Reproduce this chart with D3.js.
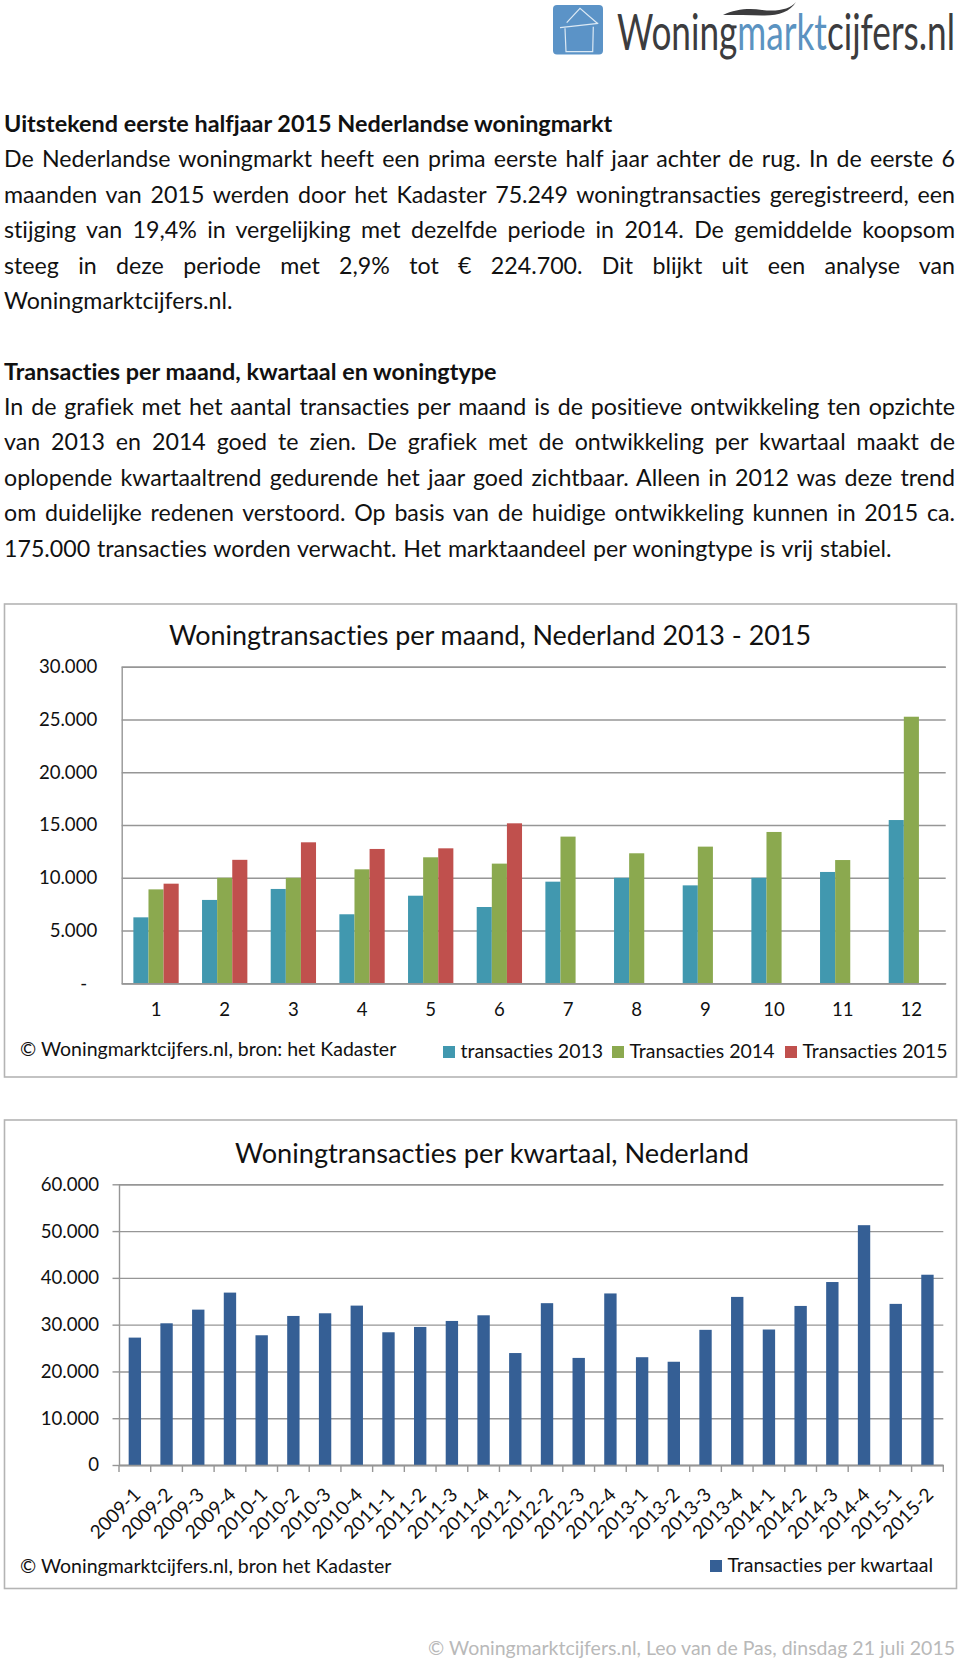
<!DOCTYPE html>
<html><head><meta charset="utf-8">
<script src="https://cdn.jsdelivr.net/npm/d3@7/dist/d3.min.js"></script>
<style>
html,body{margin:0;padding:0;background:#fff}
svg{display:block}
text{font-family:Lato,"Noto Sans",sans-serif;fill:#111;font-variant-ligatures:none}
</style></head><body>
<svg id="page" width="960" height="1658"></svg>
<script>
// ---------- DATA ----------
const intro = [
 "De Nederlandse woningmarkt heeft een prima eerste half jaar achter de rug. In de eerste 6",
 "maanden van 2015 werden door het Kadaster 75.249 woningtransacties geregistreerd, een",
 "stijging van 19,4% in vergelijking met dezelfde periode in 2014. De gemiddelde koopsom",
 "steeg in deze periode met 2,9% tot € 224.700. Dit blijkt uit een analyse van"
];
const introLast = "Woningmarktcijfers.nl.";
const heading1 = "Uitstekend eerste halfjaar 2015 Nederlandse woningmarkt";
const heading2 = "Transacties per maand, kwartaal en woningtype";
const body2 = [
 "In de grafiek met het aantal transacties per maand is de positieve ontwikkeling ten opzichte",
 "van 2013 en 2014 goed te zien. De grafiek met de ontwikkeling per kwartaal maakt de",
 "oplopende kwartaaltrend gedurende het jaar goed zichtbaar. Alleen in 2012 was deze trend",
 "om duidelijke redenen verstoord. Op basis van de huidige ontwikkeling kunnen in 2015 ca."
];
const body2Last = "175.000 transacties worden verwacht. Het marktaandeel per woningtype is vrij stabiel.";

const months = [1,2,3,4,5,6,7,8,9,10,11,12];
const seriesNames = ["transacties 2013","Transacties 2014","Transacties 2015"];
const tx2013 = [6250,7900,8940,6540,8300,7230,9630,10000,9280,10000,10550,15470];
const tx2014 = [8900,10000,10000,10800,11940,11340,13900,12320,12950,14340,11680,25260];
const tx2015 = [9440,11700,13360,12730,12790,15160];
const monthTicks = [0,5000,10000,15000,20000,25000,30000];

const quarters = ["2009-1","2009-2","2009-3","2009-4","2010-1","2010-2","2010-3","2010-4","2011-1","2011-2","2011-3","2011-4","2012-1","2012-2","2012-3","2012-4","2013-1","2013-2","2013-3","2013-4","2014-1","2014-2","2014-3","2014-4","2015-1","2015-2"];
const txQuarter = [27230,30290,33210,36850,27730,31860,32430,34070,28370,29510,30790,32000,23930,34590,22890,36670,23040,22070,28890,35930,28960,34000,39110,51260,34440,40670];
const quarterTicks = [0,10000,20000,30000,40000,50000,60000];

// ---------- STYLE ----------
const colors = ["#4198AF","#8BA94F","#C0504D"];
const quarterColor = "#355F95";
const gridColor = "#969696", frameColor = "#b4b4b4";
const bodySize = 23.2, headSize = 23.4, axisSize = 18.6, chartSize = 19.5, titleSize = 26.9;
const dutch = v => d3.format(",")(v).replace(/,/g,".");

const svg = d3.select("#page");

// ---------- justified text ----------
function line(txt,x,y,opts={}){
  const t = svg.append("text").attr("x",x).attr("y",y).text(txt)
    .attr("font-size",opts.size||bodySize)
    .attr("font-weight",opts.bold?700:400);
  if(opts.right!==undefined){
    const w = t.node().getComputedTextLength();
    const gaps = txt.split(" ").length-1;
    t.style("word-spacing",((opts.right-x-w)/gaps)+"px");
  }
  return t;
}
const L=4, R=955;
line(heading1,L,131.5,{bold:true,size:headSize});
intro.forEach((s,i)=>line(s,L,167.3+i*35.4,{right:R}));
line(introLast,L,309);
line(heading2,L,380,{bold:true,size:headSize});
body2.forEach((s,i)=>line(s,L,415+i*35.4,{right:R}));
line(body2Last,L,556.7,{right:891.5});

// ---------- logo ----------
const logo = svg.append("g");
logo.append("rect").attr("x",553).attr("y",5).attr("width",50).attr("height",49.5).attr("rx",4).attr("fill","#5B93C7");
logo.append("path").attr("d","M566.7 22.7 L580 8.3 L597.3 23.3 M560 27.7 L598.3 23.3 M565 28.3 L566 51.7 L592.7 51.7 L593.3 26.7")
  .attr("fill","none").attr("stroke","#dce9f4").attr("stroke-width",1.2);
const lt = logo.append("text").attr("font-size",51).style("fill","#3c3c3e");
lt.append("tspan").text("Woning");
lt.append("tspan").text("markt").style("fill","#5B93C1");
lt.append("tspan").text("cijfers.nl");
lt.attr("transform",`translate(617,50) scale(${338/lt.node().getComputedTextLength()},1)`);
logo.append("path").attr("d","M723 15 C735 9 750 8 762 10 C778 12 790 9 796 2 C790 12 778 16 762 15.5 C750 15 735 15 723 15 Z").attr("fill","#3c3c3e");

// ---------- chart frame ----------
function frame(y0,y1){
  svg.append("rect").attr("x",4.5).attr("y",y0).attr("width",952).attr("height",y1-y0)
    .attr("fill","#fff").attr("stroke",frameColor).attr("stroke-width",1.6);
}
function styleAxis(g,size=axisSize){
  g.attr("font-family",null).attr("font-size",null);
  g.selectAll("path,line").attr("stroke",gridColor).attr("stroke-width",1.4);
  g.selectAll("text").attr("font-size",size).style("fill","#111");
}
function legendItem(x,y,color,label,size=12){
  svg.append("rect").attr("x",x).attr("y",y-size).attr("width",size).attr("height",size).attr("fill",color);
  svg.append("text").attr("x",x+size+5.5).attr("y",y).attr("font-size",chartSize).text(label);
}

// ---------- chart 1 ----------
(function(){
  frame(604,1077);
  const x0=121.7,x1=945.7,yT=666.7,yB=983.3;
  const x = d3.scaleBand().domain(months).range([x0,x1]).paddingInner(.34).paddingOuter(.17);
  const y = d3.scaleLinear().domain([0,30000]).range([yB,yT]);
  const xs = d3.scaleBand().domain([0,1,2]).range([0,x.bandwidth()]);
  const gy = svg.append("g").attr("transform",`translate(${x0},0)`)
    .call(d3.axisLeft(y).tickValues(monthTicks).tickSize(-(x1-x0)).tickPadding(24.5).tickFormat(v=>v===0?"-":dutch(v)));
  styleAxis(gy);
  gy.selectAll(".tick text").filter(d=>d===0).attr("dx",-10);
  const series=[tx2013,tx2014,tx2015];
  series.forEach((vals,s)=>{
    svg.append("g").selectAll("rect").data(vals).join("rect")
      .attr("x",(d,i)=>x(months[i])+xs(s)).attr("width",xs.bandwidth())
      .attr("y",d=>y(d)).attr("height",d=>yB-y(d)).attr("fill",colors[s]);
  });
  const gx = svg.append("g").attr("transform",`translate(0,${yB})`)
    .call(d3.axisBottom(x).tickSize(0).tickPadding(19));
  styleAxis(gx);
  svg.append("text").attr("x",490).attr("y",645).attr("text-anchor","middle").attr("font-size",titleSize).text("Woningtransacties per maand, Nederland 2013 - 2015");
  svg.append("text").attr("x",20).attr("y",1056).attr("font-size",chartSize).text("© Woningmarktcijfers.nl, bron: het Kadaster");
  [443,612,785].forEach((lx,i)=>legendItem(lx,1058,colors[i],seriesNames[i]));
})();

// ---------- chart 2 ----------
(function(){
  frame(1120,1588.5);
  const x0=119,x1=943.3,yT=1184.3,yB=1465;
  const x = d3.scaleBand().domain(quarters).range([x0,x1]).paddingInner(.61).paddingOuter(.305);
  const y = d3.scaleLinear().domain([0,60000]).range([yB,yT]);
  const gy = svg.append("g").attr("transform",`translate(${x0},0)`)
    .call(d3.axisLeft(y).tickValues(quarterTicks).tickSize(-(x1-x0)).tickPadding(20).tickFormat(v=>v===0?"0":dutch(v)));
  styleAxis(gy);
  gy.selectAll(".tick").append("line").attr("x1",-6.5).attr("x2",0).attr("stroke",gridColor).attr("stroke-width",1.4);
  svg.append("g").selectAll("rect").data(txQuarter).join("rect")
    .attr("x",(d,i)=>x(quarters[i])).attr("width",x.bandwidth())
    .attr("y",d=>y(d)).attr("height",d=>yB-y(d)).attr("fill",quarterColor);
  const gx = svg.append("g").attr("transform",`translate(0,${yB})`)
    .call(d3.axisBottom(x).tickSize(0).tickSizeOuter(0));
  styleAxis(gx,19);
  const step=x.step();
  gx.selectAll(".tick").append("line")
    .attr("x1",-step/2).attr("x2",-step/2).attr("y1",0).attr("y2",7).attr("stroke",gridColor).attr("stroke-width",1.4);
  gx.append("line").attr("x1",x1).attr("x2",x1).attr("y1",0).attr("y2",7).attr("stroke",gridColor).attr("stroke-width",1.4);
  gx.selectAll(".tick text").attr("text-anchor","end").attr("dy",0).attr("y",0)
    .attr("transform","translate(7,31) rotate(-45)");
  svg.append("text").attr("x",492).attr("y",1163).attr("text-anchor","middle").attr("font-size",titleSize+.3).text("Woningtransacties per kwartaal, Nederland");
  svg.append("text").attr("x",20).attr("y",1573).attr("font-size",chartSize).text("© Woningmarktcijfers.nl, bron het Kadaster");
  legendItem(710,1572,quarterColor,"Transacties per kwartaal");
})();

// ---------- footer ----------
svg.append("text").attr("x",955).attr("y",1655).attr("text-anchor","end").attr("font-size",chartSize).style("fill","#b9b9b9")
  .text("© Woningmarktcijfers.nl, Leo van de Pas, dinsdag 21 juli 2015");
</script>
</body></html>
